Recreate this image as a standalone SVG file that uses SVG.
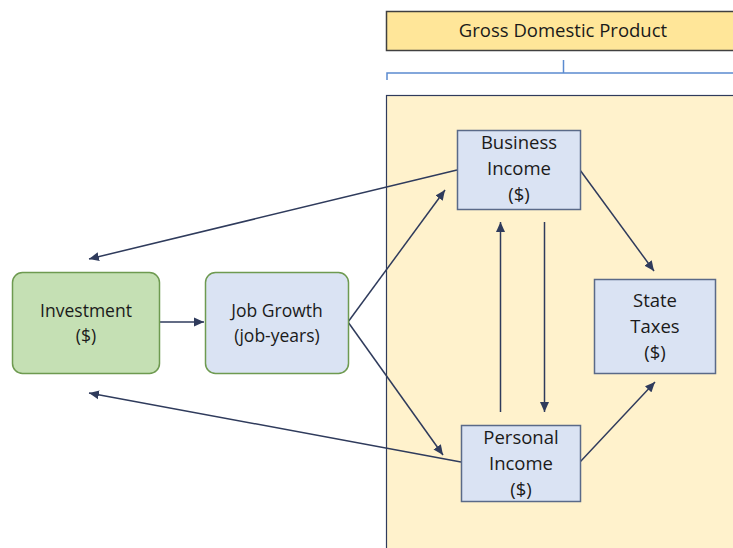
<svg xmlns="http://www.w3.org/2000/svg" width="733" height="548" viewBox="0 0 733 548">
<defs>
<marker id="ah" viewBox="0 0 10 10" refX="10" refY="5" markerWidth="10" markerHeight="10" markerUnits="userSpaceOnUse" orient="auto">
<path d="M0,0.5 L10,5 L0,9.5 Z" fill="#2F3B5C"/>
</marker>
<style>
text{font-family:"Open Sans","Liberation Sans",sans-serif;font-size:18.5px;fill:#1a1a1a;text-anchor:middle;dominant-baseline:central}
text.s{font-size:17.5px}
.blue{fill:#DAE3F3;stroke:#5A6A88;stroke-width:1.5}
.green{fill:#C5E0B4;stroke:#6E9A50;stroke-width:1.5}
.jg{fill:#DAE3F3;stroke:#6E9A50;stroke-width:1.5}
.c{stroke:#2F3B5C;stroke-width:1.5;fill:none}
.a{marker-end:url(#ah)}
</style>
</defs>
<rect width="733" height="548" fill="#ffffff"/>
<g id="gdp-panel">
<rect x="386.5" y="95.5" width="360" height="470" fill="#FFF2CC" stroke="#2F3B5C" stroke-width="1.2"/>
</g>
<g id="gdp">
<rect x="386.5" y="11.5" width="360" height="39" fill="#FFE699" stroke="#404040" stroke-width="1.5"/>
<text x="563" y="29">Gross Domestic Product</text>
</g>
<g id="bracket">
<path d="M387,80 L387,73 L733,73 M563.5,60 L563.5,73" fill="none" stroke="#5B8BD0" stroke-width="1.5"/>
</g>
<g id="connectors">
<line class="c a" x1="159" y1="322" x2="204" y2="322"/>
<line class="c a" x1="348" y1="322" x2="445" y2="190"/>
<line class="c a" x1="348" y1="322" x2="443" y2="455"/>
<line class="c a" x1="457" y1="170" x2="89" y2="259"/>
<line class="c a" x1="461" y1="462" x2="89" y2="393"/>
<line class="c a" x1="580" y1="170" x2="654" y2="271"/>
<line class="c a" x1="580" y1="462" x2="655" y2="382"/>
<line class="c a" x1="500.5" y1="412" x2="500.5" y2="222"/>
<line class="c a" x1="544.5" y1="222" x2="544.5" y2="412"/>
</g>
<g id="investment">
<rect class="green" x="12.5" y="272.5" width="147" height="101" rx="10"/>
<text class="s" x="86" y="310">Investment</text>
<text class="s" x="86" y="335">($)</text>
</g>
<g id="job-growth">
<rect class="jg" x="205.5" y="272.5" width="143" height="101" rx="10"/>
<text class="s" x="277" y="310">Job Growth</text>
<text class="s" x="277" y="335">(job-years)</text>
</g>
<g id="business-income">
<rect class="blue" x="457.5" y="130.5" width="123" height="79"/>
<text x="519" y="141.5">Business</text>
<text x="519" y="167.5">Income</text>
<text x="519" y="193.5">($)</text>
</g>
<g id="state-taxes">
<rect class="blue" x="594.5" y="279.5" width="121" height="94"/>
<text x="655" y="299.5">State</text>
<text x="655" y="325.5">Taxes</text>
<text x="655" y="351.5">($)</text>
</g>
<g id="personal-income">
<rect class="blue" x="461.5" y="425.5" width="119" height="76"/>
<text x="521" y="436.5">Personal</text>
<text x="521" y="462.5">Income</text>
<text x="521" y="488.5">($)</text>
</g>
</svg>
